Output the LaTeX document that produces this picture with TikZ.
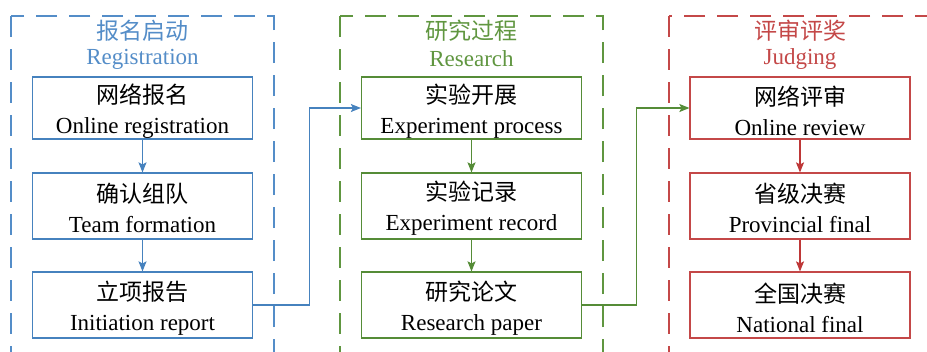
\documentclass[tikz,border=0pt]{standalone}
\usepackage{fontspec}
\setmainfont{Liberation Serif}
\newfontfamily\cjk{Noto Sans CJK SC}
\usetikzlibrary{arrows.meta}
\definecolor{cblue}{RGB}{84,141,200}
\definecolor{cgreen}{RGB}{96,150,64}
\definecolor{cred}{RGB}{196,72,72}
\definecolor{cblueline}{RGB}{70,130,190}
\definecolor{cgreenline}{RGB}{85,140,55}
\definecolor{credline}{RGB}{190,55,55}
\begin{document}
\begin{tikzpicture}[x=1pt,y=-1pt,
  stagebox/.style={draw, line width=1.2pt, minimum width=220pt, inner sep=0pt},
  boxtext/.style={align=center, inner sep=0pt, text=black, font=\fontsize{23}{30}\selectfont},
  frame/.style={line width=1.4pt, dash pattern=on 21pt off 12pt},
  ttl/.style={inner sep=0pt, font=\fontsize{23}{28}\selectfont},
  arr/.style={line width=1.1pt, -{Stealth[length=10pt,width=8pt,inset=2pt]}},
]
\clip (0,0) rectangle (927,351);
\fill[white] (0,0) rectangle (927,351);
% frames
\draw[frame, cblue] (11,16) rectangle (274,370);
\draw[frame, cgreen] (340,16) rectangle (603,370);
\draw[frame, cred] (669,16) rectangle (960,370);
% titles
\node[ttl, text=cblue] (t1a) at (142.5,31) {\cjk 报名启动};
\node[ttl, text=cblue] (t1b) at (142.5,59) {Registration};
\node[ttl, text=cgreen] (t2a) at (471.5,31) {\cjk 研究过程};
\node[ttl, text=cgreen] (t2b) at (471.5,59) {Research};
\node[ttl, text=cred] (t3a) at (800,31) {\cjk 评审评奖};
\node[ttl, text=cred] (t3b) at (800,59) {Judging};
% blue boxes
\node[stagebox, draw=cblueline, minimum height=62pt] (b1) at (142.5,108) {};
\node[stagebox, draw=cblueline, minimum height=66pt] (b2) at (142.5,206) {};
\node[stagebox, draw=cblueline, minimum height=66pt] (b3) at (142.5,305) {};
\node[boxtext] (b1t) at ([yshift=-3pt]b1.center) {{\cjk 网络报名}\\Online registration};
\node[boxtext] (b2t) at ([yshift=-2pt]b2.center) {{\cjk 确认组队}\\Team formation};
\node[boxtext] (b3t) at ([yshift=-3pt]b3.center) {{\cjk 立项报告}\\Initiation report};
% green boxes
\node[stagebox, draw=cgreenline, minimum height=62pt] (g1) at (471.5,108) {};
\node[stagebox, draw=cgreenline, minimum height=66pt] (g2) at (471.5,206) {};
\node[stagebox, draw=cgreenline, minimum height=66pt] (g3) at (471.5,305) {};
\node[boxtext] (g1t) at ([yshift=-3pt]g1.center) {{\cjk 实验开展}\\Experiment process};
\node[boxtext] (g2t) at ([yshift=-2pt]g2.center) {{\cjk 实验记录}\\Experiment record};
\node[boxtext] (g3t) at ([yshift=-3pt]g3.center) {{\cjk 研究论文}\\Research paper};
% red boxes
\node[stagebox, draw=cred, minimum height=62pt] (r1) at (800,108) {};
\node[stagebox, draw=cred, minimum height=66pt] (r2) at (800,206) {};
\node[stagebox, draw=cred, minimum height=66pt] (r3) at (800,305) {};
\node[boxtext] (r1t) at ([yshift=-3pt]r1.center) {{\cjk 网络评审}\\Online review};
\node[boxtext] (r2t) at ([yshift=-2pt]r2.center) {{\cjk 省级决赛}\\Provincial final};
\node[boxtext] (r3t) at ([yshift=-3pt]r3.center) {{\cjk 全国决赛}\\National final};
% arrows within columns
\draw[arr, cblueline] (b1) -- (b2);
\draw[arr, cblueline] (b2) -- (b3);
\draw[arr, cgreenline] (g1) -- (g2);
\draw[arr, cgreenline] (g2) -- (g3);
\draw[arr, credline] (r1) -- (r2);
\draw[arr, credline] (r2) -- (r3);
% cross-column connectors
\draw[arr, cblueline] (b3.east) -- ++(56,0) |- (g1.west);
\draw[arr, cgreenline] (g3.east) -- ++(54,0) |- (r1.west);
\end{tikzpicture}
\end{document}
